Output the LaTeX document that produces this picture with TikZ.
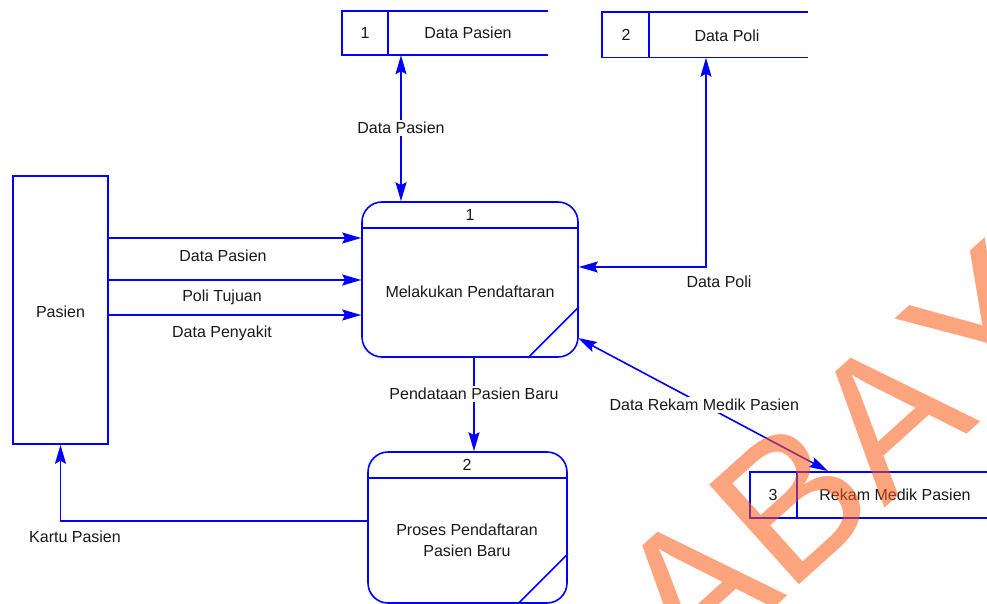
\documentclass[tikz,border=0pt]{standalone}
\usepackage{fontspec}
\setmainfont{Liberation Sans}
\newfontfamily\wmfont[Kerning=Off]{Liberation Sans}
\usetikzlibrary{arrows.meta}
\definecolor{fblue}{RGB}{0,0,255}
\definecolor{txt}{RGB}{25,25,25}
\definecolor{wmcol}{RGB}{250,90,20}
\begin{document}
\begin{tikzpicture}[x=1pt,y=-1pt,
  flow/.style={draw=fblue,line width=1.6pt},
  arrE/.style={-{Stealth[length=19pt,width=11pt,inset=3pt]}},
  arrB/.style={{Stealth[length=19pt,width=11pt,inset=3pt]}-{Stealth[length=19pt,width=11pt,inset=3pt]}},
  lbl/.style={text=txt,font=\fontsize{16}{19}\selectfont,inner sep=1pt},
  wlbl/.style={lbl,fill=white,inner sep=2pt},
  box/.style={flow,rectangle,inner sep=0pt,lbl},
  proc/.style={flow,rectangle,rounded corners=20pt,inner sep=0pt},
  store/.style={rectangle,inner sep=0pt},
  wmark/.style={text=wmcol,text opacity=0.55,font=\wmfont\fontsize{195}{195}\selectfont,inner sep=0pt}
]
\useasboundingbox (0,0) rectangle (987,604);
\begin{scope}
\clip (0,0) rectangle (987,604);

% external entity
\node[box,minimum width=95pt,minimum height=268pt] (pas) at (60.5,310) {};
\node[lbl] (pastxt) at (60.5,312) {Pasien};

% process 1
\node[proc,minimum width=216pt,minimum height=155pt] (p1) at (470,279.5) {};
\node[lbl] (p1num) at (470,215) {1};
\node[lbl] (p1txt) at (470,292) {Melakukan Pendaftaran};
\draw[flow] (p1.west |- 0,228) -- (p1.east |- 0,228);
\draw[flow] (p1.east |- 0,307) -- (528,0 |- p1.south);

% process 2
\node[proc,minimum width=199pt,minimum height=151pt] (p2) at (467.5,527.5) {};
\node[lbl] (p2num) at (467,465) {2};
\node[lbl,align=center] (p2txt) at (467,540) {Proses Pendaftaran\\[2pt]Pasien Baru};
\draw[flow] (p2.west |- 0,478) -- (p2.east |- 0,478);
\draw[flow] (p2.east |- 0,554) -- (518,0 |- p2.south);

% data store 1
\node[store,minimum width=206pt,minimum height=44pt] (ds1) at (445,33) {};
\node[lbl] (ds1n) at (365,33) {1};
\node[lbl] (ds1t) at (468,33) {Data Pasien};
\draw[flow] (ds1.north east) -- (ds1.north west) -- (ds1.south west) -- (ds1.south east);
\draw[flow] (388,0 |- ds1.north) -- (388,0 |- ds1.south);

% data store 2
\node[store,minimum width=206pt,minimum height=45pt] (ds2) at (705,35) {};
\node[lbl] (ds2n) at (626,35) {2};
\node[lbl] (ds2t) at (727,36) {Data Poli};
\draw[flow] (ds2.north east) -- (ds2.north west) -- (ds2.south west) -- (ds2.south east);
\draw[flow] (649,0 |- ds2.north) -- (649,0 |- ds2.south);

% data store 3
\node[store,minimum width=242pt,minimum height=46pt] (ds3) at (871,495) {};
\node[lbl] (ds3n) at (773,495) {3};
\node[lbl] (ds3t) at (895,495) {Rekam Medik Pasien};
\draw[flow] (ds3.north east) -- (ds3.north west) -- (ds3.south west) -- (ds3.south east);
\draw[flow] (797,0 |- ds3.north) -- (797,0 |- ds3.south);

% flows: Pasien -> process 1
\coordinate (ya) at (0,238);
\coordinate (yb) at (0,280);
\coordinate (yc) at (0,315);
\draw[flow,arrE] (pas.east |- ya) -- (p1.west |- ya);
\draw[flow,arrE] (pas.east |- yb) -- (p1.west |- yb);
\draw[flow,arrE] (pas.east |- yc) -- (p1.west |- yc);
\node[lbl] (l1) at (223,256) {Data Pasien};
\node[lbl] (l2) at (222,297) {Poli Tujuan};
\node[lbl] (l3) at (222,333) {Data Penyakit};

% data store 1 <-> process 1
\coordinate (xa) at (401,0);
\draw[flow,arrB] (xa |- ds1.south) -- node[wlbl,pos=0.5] (l4) {Data Pasien} (xa |- p1.north);

% data store 2 <-> process 1
\coordinate (xb) at (706,267);
\draw[flow,arrB] (p1.east |- xb) -| (xb |- ds2.south);
\node[lbl] (l5) at (719,282) {Data Poli};

% process 1 <-> data store 3
\coordinate (rk1) at (578,338);
\coordinate (rk2) at (828,471);
\draw[flow,arrB] (rk1) -- node[wlbl,pos=0.505] (l6) {Data Rekam Medik Pasien} (rk2);

% process 1 -> process 2
\coordinate (xc) at (474,0);
\draw[flow,arrE] (xc |- p1.south) -- node[wlbl,pos=0.39] (l7) {Pendataan Pasien Baru} (xc |- p2.north);

% process 2 -> Pasien
\coordinate (yd) at (0,521);
\draw[flow,arrE] (p2.west |- yd) -| (pas.south);
\node[lbl] (l8) at (75,537) {Kartu Pasien};

% watermark
\node[wmark,rotate=42,anchor=base west] (wm) at (385,958) {SURABAYA};
\end{scope}
\end{tikzpicture}
\end{document}
